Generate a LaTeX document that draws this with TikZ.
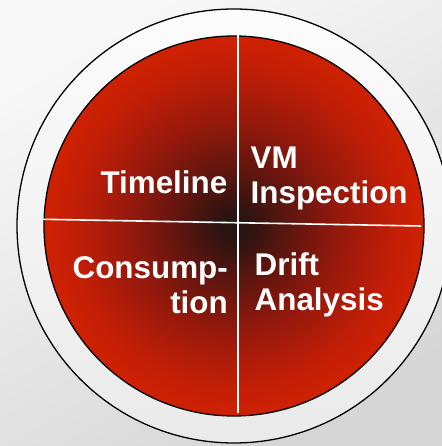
\documentclass[tikz,border=0pt]{standalone}
\usepackage{fontspec}
\setmainfont{Liberation Sans}
\usetikzlibrary{positioning,shadings}
\definecolor{mybgtop}{RGB}{248,248,248}
\definecolor{mybgbot}{RGB}{214,214,214}
\definecolor{myringtop}{RGB}{252,252,252}
\definecolor{myringbot}{RGB}{234,234,234}
\definecolor{mycore}{RGB}{40,20,16}
\definecolor{mydark}{RGB}{92,21,15}
\definecolor{mymid}{RGB}{150,25,12}
\definecolor{mywarm}{RGB}{194,30,6}
\definecolor{myred}{RGB}{217,36,0}
\pgfdeclareradialshading{myglow}{\pgfpoint{0bp}{0bp}}{%
  color(0bp)=(mycore); color(1.5bp)=(mycore); color(7bp)=(mydark);
  color(14bp)=(mymid); color(21bp)=(mywarm); color(28bp)=(myred);
  color(50bp)=(myred)}

\begin{document}
\begin{tikzpicture}[
  x=1bp,
  y=1bp,
  mydisc/.style={
    draw=black,
    line width=1.3bp
    },
  mysplit/.style={
    draw=white,
    line width=1.6bp
    },
  mylabel/.style={
    text=white,
    inner sep=0pt,
    font=\bfseries\fontsize{31.5}{36}\selectfont
    }
]
\useasboundingbox (0,0) rectangle (442,446);
\shade[top color=mybgtop,bottom color=mybgbot,shading angle=30]
  (0,0) rectangle (442,446);
\coordinate (centre) at (234,220);
\shade[mydisc,top color=myringtop,bottom color=myringbot]
  (centre) circle[radius=217];
\shade[mydisc,shading=myglow]
  (centre) circle[radius=190];
% the cross
\coordinate (splitN) at (237.7,411);
\coordinate (splitS) at (237.7,33);
\coordinate (splitW) at (43,226.7);
\coordinate (splitE) at (421,220);
\draw[mysplit] (splitN) -- (splitS);
\draw[mysplit] (splitW) -- (splitE);
% the four labels
\node[mylabel,anchor=base east,align=right]
  (timeline) at (227.5,252) {Timeline};
\node[mylabel,anchor=base west,align=left]
  (inspection) at (250.5,242) {VM\\Inspection};
\node[mylabel,anchor=base east,align=right]
  (consumption) at (228,132) {Consump-\\tion};
\node[mylabel,anchor=base west,align=left]
  (drift) at (254.5,135) {Drift\\Analysis};
\end{tikzpicture}
\end{document}
